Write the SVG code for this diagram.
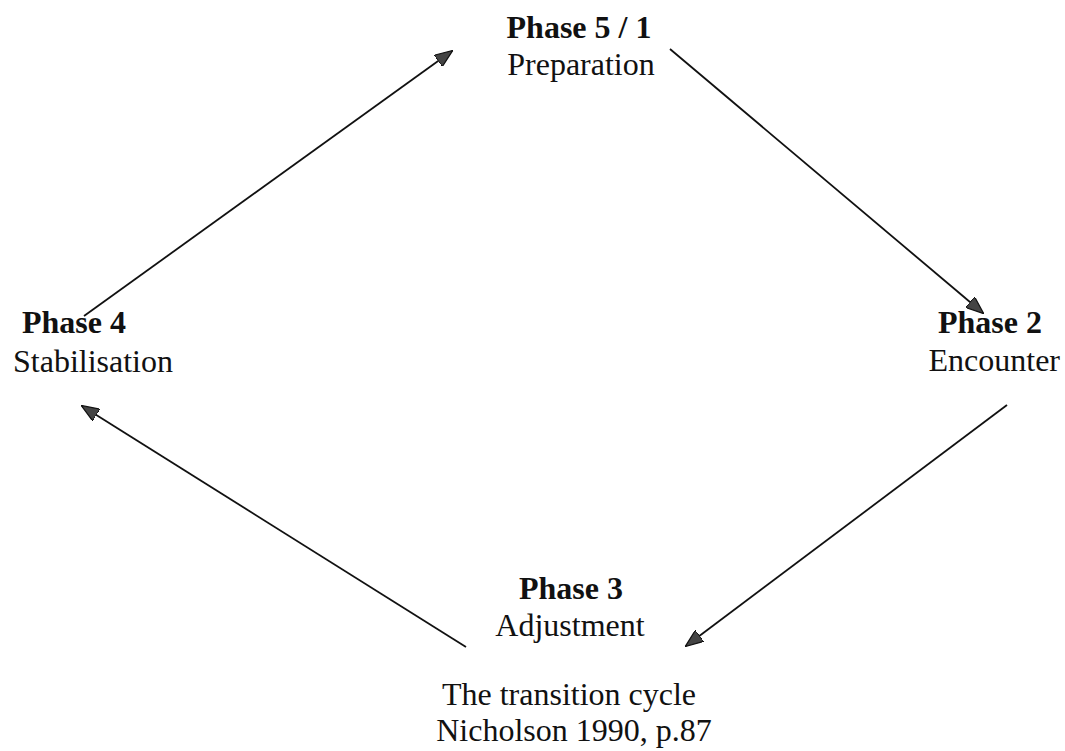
<svg xmlns="http://www.w3.org/2000/svg" width="1065" height="751" viewBox="0 0 1065 751">
<style>
text{font-family:"Liberation Serif","Times New Roman",serif;font-size:32px;fill:#111}
.b{font-weight:bold}
.c{stroke:#111;stroke-width:1.8;fill:none}
</style>
<defs>
<marker id="a" viewBox="0 0 18 14" refX="17" refY="7" markerWidth="18" markerHeight="14" markerUnits="userSpaceOnUse" orient="auto">
<path d="M0,0 L18,7 L0,14 z" fill="#444" stroke="#111" stroke-width="1.2"/>
</marker>
</defs>
<rect width="1065" height="751" fill="#fff"/>
<g id="connectors">
<line class="c" x1="84" y1="316" x2="452" y2="51" marker-end="url(#a)"/>
<line class="c" x1="670" y1="49" x2="983" y2="313" marker-end="url(#a)"/>
<line class="c" x1="1007" y1="405" x2="686" y2="646" marker-end="url(#a)"/>
<line class="c" x1="466" y1="647" x2="82" y2="406" marker-end="url(#a)"/>
</g>
<g id="phase51">
<text class="b" x="579" y="38" text-anchor="middle">Phase 5 / 1</text>
<text x="581" y="75" text-anchor="middle">Preparation</text>
</g>
<g id="phase2">
<text class="b" x="1042" y="333" text-anchor="end">Phase 2</text>
<text x="1060" y="371" text-anchor="end">Encounter</text>
</g>
<g id="phase3">
<text class="b" x="571" y="599" text-anchor="middle">Phase 3</text>
<text x="570" y="636" text-anchor="middle">Adjustment</text>
</g>
<g id="phase4">
<text class="b" x="22" y="333">Phase 4</text>
<text x="13" y="372">Stabilisation</text>
</g>
<g id="caption">
<text x="569" y="705" text-anchor="middle">The transition cycle</text>
<text x="574" y="741" text-anchor="middle">Nicholson 1990, p.87</text>
</g>
</svg>
